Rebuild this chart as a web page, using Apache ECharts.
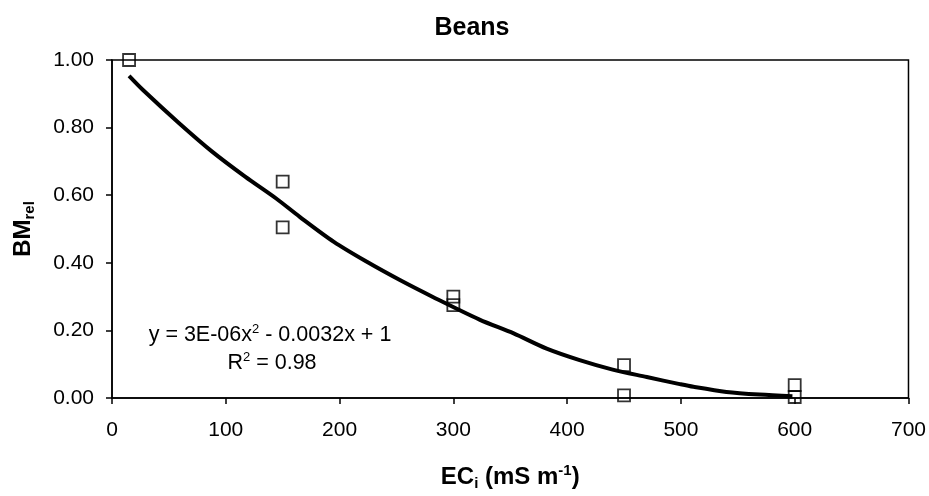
<!DOCTYPE html>
<html>
<head>
<meta charset="utf-8">
<script src="https://cdn.jsdelivr.net/npm/echarts@6/dist/echarts.min.js"></script>
<style>
html,body{margin:0;padding:0;background:#fff;}
#chart{width:929px;height:496px;}
</style>
</head>
<body>
<div id="chart"></div>
<script>
// Observed data points (EC_i, BM_rel)
const obsX = [15, 150, 150, 300, 300, 450, 450, 600, 600];
const obsY = [1.00, 0.64, 0.505, 0.30, 0.275, 0.097, 0.008, 0.038, 0.003];
// Trend line
const trendX = [15, 27, 59, 88, 117, 144, 165, 195, 224, 253, 282, 323, 353, 382, 411, 440, 470, 499, 511, 540, 569, 598];
const trendY = [0.953, 0.912, 0.813, 0.729, 0.655, 0.591, 0.536, 0.462, 0.403, 0.349, 0.299, 0.232, 0.191, 0.146, 0.112, 0.084, 0.062, 0.041, 0.033, 0.018, 0.010, 0.005];
const chartTitle = 'Beans';
const equationText = 'y = 3E-06x{sup|2} - 0.0032x + 1';
const r2Text = 'R{sup|2} = 0.98';

const FONT = '"Liberation Sans", Arial, sans-serif';
const chart = echarts.init(document.getElementById('chart'), null, {renderer: 'canvas'});
const supStyle = {fontSize: 13, fontFamily: FONT, color: '#000', verticalAlign: 'top', lineHeight: 24};
const option = {
  backgroundColor: '#fff',
  animation: false,
  title: [
    {text: chartTitle, left: 467, top: 11, textAlign: 'center',
     textStyle: {fontFamily: FONT, fontSize: 25, fontWeight: 'bold', color: '#000'}},
    {text: equationText, left: 265, top: 318, textAlign: 'center',
     textStyle: {fontFamily: FONT, fontSize: 21.5, fontWeight: 'normal', color: '#000', lineHeight: 24,
       rich: {sup: supStyle}}},
    {text: r2Text, left: 267, top: 346, textAlign: 'center',
     textStyle: {fontFamily: FONT, fontSize: 21.5, fontWeight: 'normal', color: '#000', lineHeight: 24,
       rich: {sup: supStyle}}}
  ],
  grid: {left: 112, right: 20, top: 60, bottom: 98, show: true, borderColor: '#000', borderWidth: 1.5, containLabel: false},
  xAxis: {
    type: 'value', min: 0, max: 700, interval: 100,
    name: 'EC{sub|i} (mS m{sup|-1})', nameLocation: 'middle', nameGap: 65,
    nameTextStyle: {fontFamily: FONT, fontSize: 24, fontWeight: 'bold', color: '#000', lineHeight: 28,
      rich: {
        sub: {fontFamily: FONT, fontSize: 15, fontWeight: 'bold', color: '#000', verticalAlign: 'bottom', lineHeight: 28},
        sup: {fontFamily: FONT, fontSize: 15, fontWeight: 'bold', color: '#000', verticalAlign: 'top', lineHeight: 28}
      }},
    axisLine: {show: true, onZero: false, lineStyle: {color: '#000', width: 1.5}},
    axisTick: {show: true, inside: false, length: 6, lineStyle: {color: '#000', width: 1.5}},
    axisLabel: {fontFamily: FONT, fontSize: 21, color: '#000', margin: 22},
    splitLine: {show: false}
  },
  yAxis: {
    type: 'value', min: 0, max: 1, interval: 0.2,
    name: 'BM{sub|rel}', nameLocation: 'middle', nameGap: 75, nameRotate: 90,
    nameTextStyle: {fontFamily: FONT, fontSize: 24, fontWeight: 'bold', color: '#000', lineHeight: 28,
      rich: {
        sub: {fontFamily: FONT, fontSize: 15, fontWeight: 'bold', color: '#000', verticalAlign: 'bottom', lineHeight: 28}
      }},
    axisLine: {show: true, onZero: false, lineStyle: {color: '#000', width: 1.5}},
    axisTick: {show: true, inside: false, length: 6, lineStyle: {color: '#000', width: 1.5}},
    axisLabel: {fontFamily: FONT, fontSize: 21, color: '#000', margin: 18,
      formatter: v => v.toFixed(2)},
    splitLine: {show: false}
  },
  series: [
    {
      type: 'line', name: 'trend', z: 2,
      data: trendX.map((x, i) => [x, trendY[i]]),
      smooth: 0.3, showSymbol: false, symbol: 'none',
      lineStyle: {color: '#000', width: 4}
    },
    {
      type: 'scatter', name: 'obs', z: 3,
      data: obsX.map((x, i) => [x, obsY[i]]),
      symbol: 'rect', symbolSize: 12,
      itemStyle: {color: 'rgba(255,255,255,0)', borderColor: '#000', borderWidth: 1.8}
    }
  ]
};
chart.setOption(option);
</script>
</body>
</html>
